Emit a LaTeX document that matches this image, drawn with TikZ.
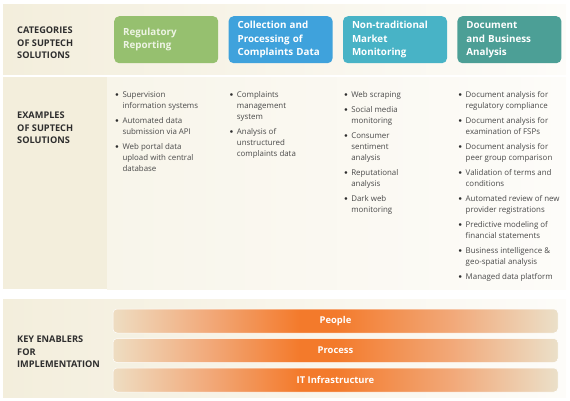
\documentclass[tikz,border=0pt]{standalone}
\usepackage{fontspec}
\setmainfont{Open Sans}
\usetikzlibrary{positioning}
\definecolor{catgreen}{HTML}{96C06F}
\definecolor{catgreentext}{HTML}{EEF4E4}
\definecolor{catblue}{HTML}{3FA2DC}
\definecolor{catcyan}{HTML}{48B3C6}
\definecolor{catteal}{HTML}{4C9F96}
\definecolor{enorange}{HTML}{F37A2B}
\definecolor{enmid}{HTML}{F2A878}
\definecolor{enbeigeL}{HTML}{EEDDC2}
\definecolor{enbeigeR}{HTML}{EBE0C9}
\definecolor{bandL}{HTML}{F3EEDC}
\definecolor{bandM}{HTML}{F8F5EA}
\definecolor{bandR}{HTML}{FDFCF9}
\definecolor{listtext}{HTML}{4A4A4A}
\definecolor{labeltext}{HTML}{2E2E2E}
\pgfdeclarehorizontalshading{enabler}{100bp}{color(0bp)=(enbeigeL); color(25bp)=(enbeigeL); color(36bp)=(enmid); color(46bp)=(enorange); color(50bp)=(enorange); color(63bp)=(enmid); color(75bp)=(enbeigeR); color(100bp)=(enbeigeR)}
\newcommand{\bl}{\raisebox{0.4pt}{\color{labeltext}$\scriptstyle\bullet$}}
\newcommand{\examples}[1]{\begin{tabular}{@{}l@{\hspace{3.5pt}}l@{}}#1\end{tabular}}

\begin{document}
\begin{tikzpicture}[x=1pt,y=-1pt,
  rowlabel/.style={anchor=west,align=left,inner sep=0pt,text=labeltext,
    font=\bfseries\fontsize{9.2}{12.5}\selectfont},
  catbox/.style={anchor=north west,rounded corners=5pt,text=white,align=left,
    text width=86pt,inner xsep=9pt,minimum height=47pt,
    font=\bfseries\fontsize{9.8}{13.3}\selectfont},
  exlist/.style={anchor=north west,inner sep=0pt,text=listtext,
    font=\fontsize{7.9}{11}\selectfont},
  enablerbar/.style={rounded corners=4pt,shading=enabler,draw=white,line width=0.5pt,
    minimum width=445pt,minimum height=24pt,inner sep=0pt,text=white,
    font=\bfseries\fontsize{9.4}{11}\selectfont}]
  \useasboundingbox (0,0) rectangle (570,400);

  % background bands
  \shade[left color=bandL,right color=bandR] (3,4) rectangle (566,74);
  \fill[bandL] (3,77) rectangle (107,289);
  \shade[left color=bandM,right color=bandR] (107,77) rectangle (566,289);
  \shade[left color=bandL,right color=bandR] (3,299) rectangle (566,397);

  % row labels
  \node[rowlabel] (catlbl) at (17,43) {CATEGORIES\\OF SUPTECH\\SOLUTIONS};
  \node[rowlabel] (exlbl) at (17,128) {EXAMPLES\\OF SUPTECH\\SOLUTIONS};
  \node[rowlabel] (keylbl) at (17,352) {KEY ENABLERS\\FOR\\IMPLEMENTATION};

  % categories
  \node[catbox,fill=catgreen,text=catgreentext] (reg) at (114,16) {Regulatory\\Reporting};
  \node[catbox,fill=catblue,right=10pt of reg] (compl) {Collection and\\Processing of\\Complaints Data};
  \node[catbox,fill=catcyan,right=10pt of compl] (market) {Non-traditional\\Market\\Monitoring};
  \node[catbox,fill=catteal,right=10pt of market] (docs) {Document\\and Business\\Analysis};

  % examples
  \node[exlist,below=26pt of reg.south west,anchor=north west,xshift=1pt] (exreg) {\examples{
    \bl & Supervision\\ & information systems\\[4pt]
    \bl & Automated data\\ & submission via API\\[4pt]
    \bl & Web portal data\\ & upload with central\\ & database}};
  \node[exlist,below=26pt of compl.south west,anchor=north west,xshift=1pt] (excompl) {\examples{
    \bl & Complaints\\ & management\\ & system\\[4pt]
    \bl & Analysis of\\ & unstructured\\ & complaints data}};
  \node[exlist,below=26pt of market.south west,anchor=north west,xshift=1pt] (exmarket) {\examples{
    \bl & Web scraping\\[4pt]
    \bl & Social media\\ & monitoring\\[4pt]
    \bl & Consumer\\ & sentiment\\ & analysis\\[4pt]
    \bl & Reputational\\ & analysis\\[4pt]
    \bl & Dark web\\ & monitoring}};
  \node[exlist,below=26pt of docs.south west,anchor=north west,xshift=1pt] (exdocs) {\examples{
    \bl & Document analysis for\\ & regulatory compliance\\[4pt]
    \bl & Document analysis for\\ & examination of FSPs\\[4pt]
    \bl & Document analysis for\\ & peer group comparison\\[4pt]
    \bl & Validation of terms and\\ & conditions\\[4pt]
    \bl & Automated review of new\\ & provider registrations\\[4pt]
    \bl & Predictive modeling of\\ & financial statements\\[4pt]
    \bl & Business intelligence \&\\ & geo-spatial analysis\\[4pt]
    \bl & Managed data platform}};

  % key enablers
  \node[enablerbar] (people) at (335.5,321) {People};
  \node[enablerbar,below=5pt of people] (process) {Process};
  \node[enablerbar,below=5pt of process] (infra) {IT Infrastructure};
\end{tikzpicture}
\end{document}
